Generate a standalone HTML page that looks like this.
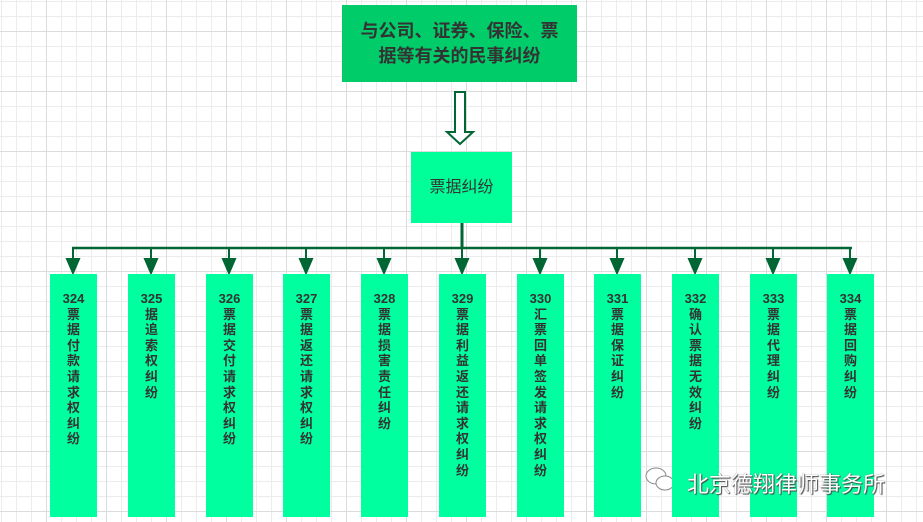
<!DOCTYPE html>
<html><head><meta charset="utf-8"><style>
body{margin:0;width:923px;height:522px;overflow:hidden;position:relative;background:#fff;
background-image:linear-gradient(#dcdcdc 1px,transparent 1px),linear-gradient(90deg,#dcdcdc 1px,transparent 1px),linear-gradient(#ececec 1px,transparent 1px),linear-gradient(90deg,#ececec 1px,transparent 1px);
background-size:60px 60px,60px 60px,15px 15px,15px 15px;background-position:46px 31px,46px 31px,1px 1px,1px 1px;
font-family:"Liberation Sans","Noto Sans CJK SC",sans-serif;}
.b{position:absolute;color:#333;font-weight:bold;text-align:center}
.top{left:342px;top:5px;width:235px;height:77px;background:#00cc6a;font-size:18px;line-height:25px;display:flex;align-items:center;justify-content:center;white-space:nowrap}
.mid{left:411px;top:152px;width:101px;height:71px;background:#00ff99;font-size:16px;line-height:71px;font-weight:normal}
.leaf{top:274px;width:47px;height:243px;background:#00ff9f;font-size:13px;line-height:15.6px;padding-top:17px;box-sizing:border-box}
.wm{position:absolute;left:687px;top:467px;font-size:22px;color:#fff;text-shadow:1px 1px 1px #444,0 0 1px #666;font-family:"Noto Sans CJK SC",sans-serif}
</style></head><body>
<div class="b top"><div>与公司、证券、保险、票<br>据等有关的民事纠纷</div></div>
<div class="b mid">票据纠纷</div>
<svg style="position:absolute;left:0;top:0" width="923" height="522">
<path d="M455,92 H465 V132 H473 L460,144 L447,132 H455 Z" fill="#fff" stroke="#006633" stroke-width="2"/>
<line x1="462" y1="223" x2="462" y2="248" stroke="#006633" stroke-width="3"/>
<line x1="72" y1="248" x2="852" y2="248" stroke="#006633" stroke-width="2.5"/>
<g stroke="#006633" stroke-width="2" fill="#006633">
<line x1="73" y1="248" x2="73" y2="262"/><path d="M67,259 H79 L73,273 Z"/>
<line x1="151" y1="248" x2="151" y2="262"/><path d="M145,259 H157 L151,273 Z"/>
<line x1="229" y1="248" x2="229" y2="262"/><path d="M223,259 H235 L229,273 Z"/>
<line x1="306" y1="248" x2="306" y2="262"/><path d="M300,259 H312 L306,273 Z"/>
<line x1="384" y1="248" x2="384" y2="262"/><path d="M378,259 H390 L384,273 Z"/>
<line x1="462" y1="248" x2="462" y2="262"/><path d="M456,259 H468 L462,273 Z"/>
<line x1="540" y1="248" x2="540" y2="262"/><path d="M534,259 H546 L540,273 Z"/>
<line x1="617" y1="248" x2="617" y2="262"/><path d="M611,259 H623 L617,273 Z"/>
<line x1="695" y1="248" x2="695" y2="262"/><path d="M689,259 H701 L695,273 Z"/>
<line x1="773" y1="248" x2="773" y2="262"/><path d="M767,259 H779 L773,273 Z"/>
<line x1="850" y1="248" x2="850" y2="262"/><path d="M844,259 H856 L850,273 Z"/>
</g>
<g transform="translate(645,466)" fill="#fff" stroke="#888" stroke-width="1">
<ellipse cx="11" cy="10" rx="10" ry="8"/><ellipse cx="20" cy="17" rx="9" ry="7"/>
</g>
</svg>
<div class="b leaf" style="left:50px">324<br>票<br>据<br>付<br>款<br>请<br>求<br>权<br>纠<br>纷</div>
<div class="b leaf" style="left:128px">325<br>据<br>追<br>索<br>权<br>纠<br>纷</div>
<div class="b leaf" style="left:206px">326<br>票<br>据<br>交<br>付<br>请<br>求<br>权<br>纠<br>纷</div>
<div class="b leaf" style="left:283px">327<br>票<br>据<br>返<br>还<br>请<br>求<br>权<br>纠<br>纷</div>
<div class="b leaf" style="left:361px">328<br>票<br>据<br>损<br>害<br>责<br>任<br>纠<br>纷</div>
<div class="b leaf" style="left:439px">329<br>票<br>据<br>利<br>益<br>返<br>还<br>请<br>求<br>权<br>纠<br>纷</div>
<div class="b leaf" style="left:517px">330<br>汇<br>票<br>回<br>单<br>签<br>发<br>请<br>求<br>权<br>纠<br>纷</div>
<div class="b leaf" style="left:594px">331<br>票<br>据<br>保<br>证<br>纠<br>纷</div>
<div class="b leaf" style="left:672px">332<br>确<br>认<br>票<br>据<br>无<br>效<br>纠<br>纷</div>
<div class="b leaf" style="left:750px">333<br>票<br>据<br>代<br>理<br>纠<br>纷</div>
<div class="b leaf" style="left:827px">334<br>票<br>据<br>回<br>购<br>纠<br>纷</div>
<div class="wm">北京德翔律师事务所</div>
</body></html>
